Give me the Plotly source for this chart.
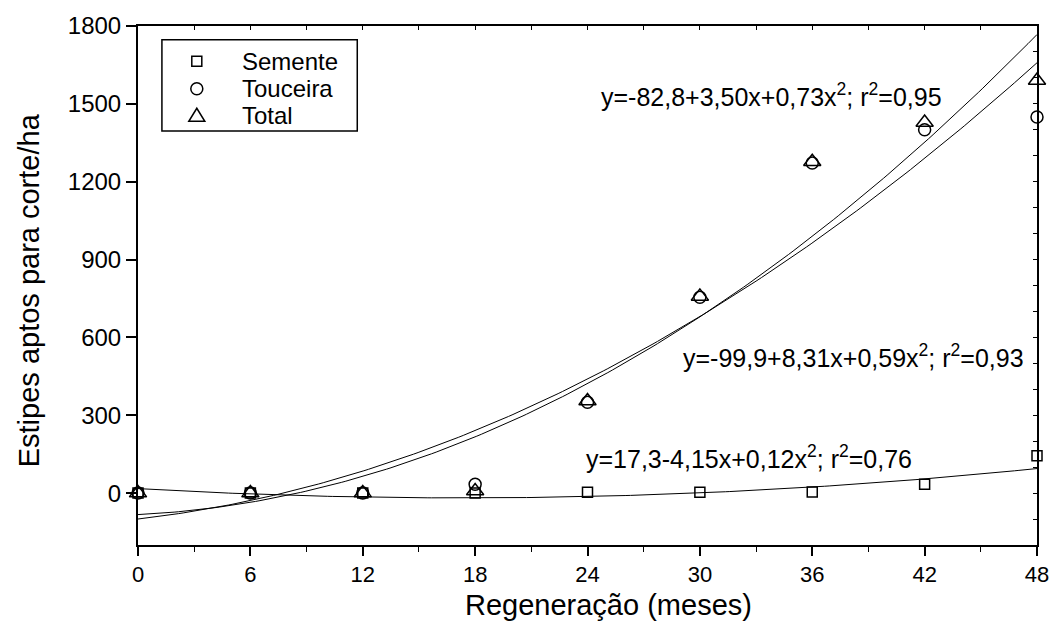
import numpy as np
import plotly.graph_objects as go

# ---- data ----
meses = [0, 6, 12, 18, 24, 30, 36, 42, 48]
semente = [0, 0, 0, 0, 3, 3, 4, 34, 144]
touceira = [0, 0, 0, 34, 350, 755, 1272, 1400, 1449]
total = [0, 0, 0, 8, 355, 758, 1277, 1428, 1590]

series_names = ["Semente", "Touceira", "Total"]

# regression coefficients printed on the chart (a + b x + c x^2)
coef_total = [-82.8, 3.50, 0.73]
coef_touceira = [-99.9, 8.31, 0.59]
coef_semente = [17.3, -4.15, 0.12]

eq_total = "y=-82,8+3,50x+0,73x<sup>2</sup>; r<sup>2</sup>=0,95"
eq_touceira = "y=-99,9+8,31x+0,59x<sup>2</sup>; r<sup>2</sup>=0,93"
eq_semente = "y=17,3-4,15x+0,12x<sup>2</sup>; r<sup>2</sup>=0,76"

x_ticks = [0, 6, 12, 18, 24, 30, 36, 42, 48]
y_ticks = [0, 300, 600, 900, 1200, 1500, 1800]

FONT = "Liberation Sans, Arial, sans-serif"

# plot area in pixels
L, R, T, B = 138, 1040, 16, 545
W, H = R - L, B - T


def px(xp):
    return (xp - L) / W


def py(yp):
    return (B - yp) / H


fig = go.Figure()

xs = np.linspace(0, 48, 200)
for c in (coef_total, coef_touceira, coef_semente):
    fig.add_trace(go.Scatter(x=xs, y=c[0] + c[1] * xs + c[2] * xs ** 2,
                             mode="lines", line=dict(color="black", width=1),
                             showlegend=False, hoverinfo="skip"))

mk_line = dict(color="black", width=1.5)
fig.add_trace(go.Scatter(x=meses, y=semente, mode="markers", name=series_names[0],
                         marker=dict(symbol="square-open", size=10, color="black", line=mk_line),
                         cliponaxis=False, showlegend=False))
fig.add_trace(go.Scatter(x=meses, y=touceira, mode="markers", name=series_names[1],
                         marker=dict(symbol="circle-open", size=12, color="black", line=mk_line),
                         cliponaxis=False, showlegend=False))
fig.add_trace(go.Scatter(x=meses, y=total, mode="markers", name=series_names[2],
                         marker=dict(symbol="triangle-up-open", size=15, color="black", line=mk_line),
                         cliponaxis=False, showlegend=False))

# invisible trace for mirrored (top/right) inner ticks
fig.add_trace(go.Scatter(x=[0], y=[0], xaxis="x2", yaxis="y2", mode="markers",
                         marker=dict(opacity=0), showlegend=False, hoverinfo="skip"))

# equations
for txt, xv, yv in ((eq_total, 24.6, 1535), (eq_touceira, 29.0, 530), (eq_semente, 23.8, 138)):
    fig.add_annotation(x=xv, y=yv, xref="x", yref="y", text=txt, showarrow=False,
                       xanchor="left", yanchor="middle",
                       font=dict(family=FONT, size=25, color="black"))

# axis titles (as annotations to place them as in the reference)
fig.add_annotation(x=px(610), y=py(606), xref="paper", yref="paper",
                   text="Regeneração (meses)", showarrow=False,
                   xanchor="center", yanchor="middle",
                   font=dict(family=FONT, size=29, color="black"))
fig.add_annotation(x=px(29), y=py(285), xref="paper", yref="paper",
                   text="Estipes aptos para corte/ha", showarrow=False, textangle=-90,
                   xanchor="center", yanchor="middle",
                   font=dict(family=FONT, size=29, color="black"))

# ---- legend drawn by hand ----
shapes = [dict(type="rect", xref="paper", yref="paper",
               x0=px(162), x1=px(358), y0=py(123), y1=py(30),
               line=dict(color="black", width=1.5), fillcolor="white", layer="above")]
rows = [52, 80, 107]
sym_x = px(197)
shapes.append(dict(type="rect", xref="paper", yref="paper", xsizemode="pixel", ysizemode="pixel",
                   xanchor=sym_x, yanchor=py(rows[0]), x0=-5, x1=5, y0=-5, y1=5,
                   line=dict(color="black", width=1.5), layer="above"))
shapes.append(dict(type="circle", xref="paper", yref="paper", xsizemode="pixel", ysizemode="pixel",
                   xanchor=sym_x, yanchor=py(rows[1]), x0=-6, x1=6, y0=-6, y1=6,
                   line=dict(color="black", width=1.5), layer="above"))
shapes.append(dict(type="path", xref="paper", yref="paper", xsizemode="pixel", ysizemode="pixel",
                   xanchor=sym_x, yanchor=py(rows[2]), path="M-8,-6 L8,-6 L0,7 Z",
                   line=dict(color="black", width=1.5), layer="above"))
for name, r in zip(series_names, rows):
    fig.add_annotation(x=px(240), y=py(r), xref="paper", yref="paper", text=name,
                       showarrow=False, xanchor="left", yanchor="middle",
                       font=dict(family=FONT, size=24, color="black"))

fig.update_layout(
    width=1061, height=629,
    margin=dict(l=L, r=1061 - R, t=T, b=629 - B),
    paper_bgcolor="white", plot_bgcolor="white",
    font=dict(family=FONT, color="black"),
    shapes=shapes,
    showlegend=False,
    xaxis=dict(range=[0, 48], tickvals=x_ticks, ticks="outside", ticklen=9, tickwidth=1.5,
               tickcolor="black", showline=True, linecolor="black", linewidth=2,
               showgrid=False, zeroline=False, tickfont=dict(size=22),
               minor=dict(dtick=3, ticks="outside", ticklen=5, tickcolor="black", tickwidth=1)),
    yaxis=dict(range=[-200, 1800], tickvals=y_ticks, ticks="outside", ticklen=10, tickwidth=1.5,
               tickcolor="black", showline=True, linecolor="black", linewidth=2,
               showgrid=False, zeroline=False, tickfont=dict(size=24)),
    xaxis2=dict(range=[0, 48], overlaying="x", side="top", dtick=3, ticks="inside", ticklen=4,
                tickcolor="black", showticklabels=False, showline=True, linecolor="black",
                linewidth=2, showgrid=False, zeroline=False),
    yaxis2=dict(range=[-200, 1800], overlaying="y", side="right", dtick=100, tick0=0,
                ticks="inside", ticklen=4, tickcolor="black", showticklabels=False,
                showline=True, linecolor="black", linewidth=2, showgrid=False, zeroline=False),
)

fig.write_html("out.html")
